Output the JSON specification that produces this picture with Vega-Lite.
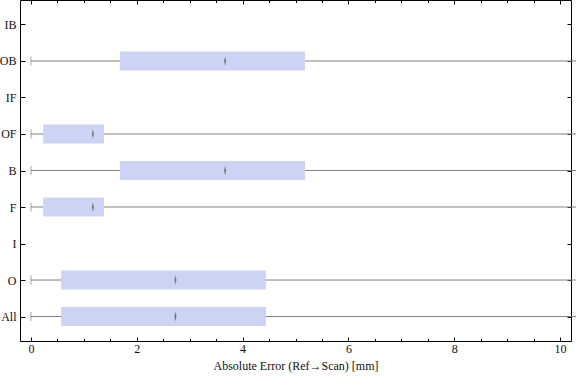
{
  "$schema": "https://vega.github.io/schema/vega-lite/v6.json",
  "autosize": "none",
  "width": 551,
  "height": 341,
  "padding": {"left": 20, "top": 0, "right": 5, "bottom": 40},
  "background": "white",
  "config": {
    "view": {"stroke": "black", "strokeWidth": 1},
    "font": "Liberation Serif",
    "axis": {"domain": false, "grid": false, "labelFont": "Liberation Serif", "titleFont": "Liberation Serif", "labelFontSize": 12, "titleFontSize": 12, "titleFontWeight": "normal", "labelColor": "#111", "titleColor": "#111", "tickColor": "black"}
  },
  "data": {
    "values": [
      {"cat": "OB", "min": 0, "q1": 1.68, "median": 3.67, "q3": 5.18, "max": 12},
      {"cat": "OF", "min": 0, "q1": 0.23, "median": 1.17, "q3": 1.38, "max": 12},
      {"cat": "B", "min": 0, "q1": 1.68, "median": 3.67, "q3": 5.18, "max": 12},
      {"cat": "F", "min": 0, "q1": 0.23, "median": 1.17, "q3": 1.38, "max": 12},
      {"cat": "O", "min": 0, "q1": 0.57, "median": 2.73, "q3": 4.44, "max": 12},
      {"cat": "All", "min": 0, "q1": 0.57, "median": 2.73, "q3": 4.44, "max": 12}
    ]
  },
  "layer": [
    {
      "mark": {"type": "rule", "color": "#808080", "strokeWidth": 1},
      "encoding": {
        "x": {"field": "min", "type": "quantitative", "scale": {"domain": [-0.208, 10.208], "nice": false, "zero": false},
          "axis": {"orient": "bottom", "title": "Absolute Error (Ref→Scan) [mm]", "values": [0,0.5,1,1.5,2,2.5,3,3.5,4,4.5,5,5.5,6,6.5,7,7.5,8,8.5,9,9.5,10],
            "labelExpr": "datum.value % 2 === 0 ? format(datum.value, 'd') : ''",
            "tickSize": {"condition": {"test": "datum.value % 2 === 0", "value": -4}, "value": -2.5},
            "labelPadding": 6, "titlePadding": 6}},
        "x2": {"field": "max"},
        "y": {"field": "cat", "type": "nominal",
          "scale": {"type": "point", "domain": ["IB", "OB", "IF", "OF", "B", "F", "I", "O", "All"], "padding": 0.67},
          "axis": {"orient": "left", "title": null, "tickSize": -5, "labelPadding": 9}}
      }
    },
    {
      "mark": {"type": "tick", "color": "#808080", "size": 9, "thickness": 1, "orient": "vertical"},
      "encoding": {
        "x": {"field": "min", "type": "quantitative",
          "axis": {"orient": "top", "title": null, "labels": false, "values": [0,0.5,1,1.5,2,2.5,3,3.5,4,4.5,5,5.5,6,6.5,7,7.5,8,8.5,9,9.5,10],
            "tickSize": {"condition": {"test": "datum.value % 2 === 0", "value": -4}, "value": -2.5}}},
        "y": {"field": "cat", "type": "nominal", "axis": {"orient": "right", "title": null, "labels": false, "tickSize": -4}}
      }
    },
    {
      "mark": {"type": "bar", "color": "#ccd3f4", "size": 19},
      "encoding": {
        "x": {"field": "q1", "type": "quantitative", "axis": null},
        "x2": {"field": "q3"},
        "y": {"field": "cat", "type": "nominal", "axis": null}
      }
    },
    {
      "mark": {"type": "point", "shape": "M0,-1L0.22,0L0,1L-0.22,0Z", "filled": true, "color": "#777777", "size": 90, "opacity": 1},
      "encoding": {
        "x": {"field": "median", "type": "quantitative", "axis": null},
        "y": {"field": "cat", "type": "nominal", "axis": null}
      }
    }
  ],
  "resolve": {"axis": {"x": "independent", "y": "independent"}}
}
